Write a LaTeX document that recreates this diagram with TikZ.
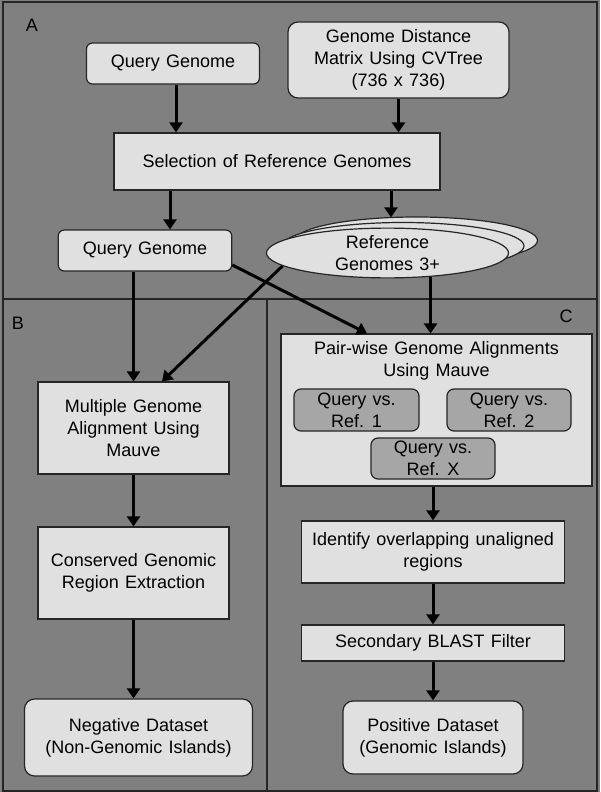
\documentclass[tikz,border=0pt]{standalone}
\usepackage{fontspec}
\setmainfont[WordSpace=1.25]{Liberation Sans}
\usetikzlibrary{arrows.meta,shapes.geometric}
\definecolor{bg}{HTML}{808080}
\definecolor{boxfill}{HTML}{E0E0E0}
\definecolor{innerfill}{HTML}{A6A6A6}
\definecolor{edge}{HTML}{262626}
\tikzset{
  txt/.style={font=\fontsize{18}{22}\selectfont, align=center, inner sep=0pt},
  sqbox/.style={txt, rectangle, draw=edge, line width=1.2pt, fill=boxfill},
  rbox/.style={sqbox, rounded corners=8pt},
  ibox/.style={sqbox, rounded corners=7pt, fill=innerfill},
  ell/.style={txt, ellipse, draw=edge, line width=1.2pt, fill=boxfill, minimum width=242pt, minimum height=47pt},
  arr/.style={line width=3pt, black, -{Triangle[width=13pt,length=10pt]}},
  panel/.style={draw=edge, line width=1.5pt},
  lab/.style={font=\fontsize{18}{20}\selectfont, inner sep=0pt}
}
\begin{document}
\begin{tikzpicture}[x=1pt,y=-1pt]
\fill[bg] (0,0) rectangle (600,792);
\useasboundingbox (0,0) rectangle (600,792);
% panels
\draw[panel] (3,2) rectangle (597,791);
\draw[panel] (3,299) -- (597,299);
\draw[panel] (267,299) -- (267,791);
\node[lab] (la) at (32,25) {A};
\node[lab] (lb) at (18,323) {B};
\node[lab] (lc) at (566,316) {C};
% panel A
\node[rbox, rounded corners=6pt, minimum width=173pt, minimum height=41pt] (qg1) at (173,63.5) {Query Genome};
\node[rbox, rounded corners=10pt, minimum width=221pt, minimum height=76pt] (dm) at (398.5,60) {Genome Distance\\Matrix Using CVTree\\(736 x 736)};
\node[sqbox, minimum width=326pt, minimum height=57pt] (sel) at (277,161.5) {Selection of Reference Genomes};
\node[rbox, rounded corners=6pt, minimum width=173.5pt, minimum height=41pt] (qg2) at (145,250.5) {Query Genome};
\node[ell] (e3) at (416.5,240.5) {};
\node[ell] (e2) at (403,246) {};
\node[ell] (e1) at (387.5,253) {Reference\\Genomes 3+};
% panel B
\node[sqbox, minimum width=191pt, minimum height=92pt] (mga) at (133.5,428) {Multiple Genome\\Alignment Using\\Mauve};
\node[sqbox, minimum width=191pt, minimum height=92pt] (cgr) at (133.5,573) {Conserved Genomic\\Region Extraction};
\node[rbox, rounded corners=10pt, minimum width=228pt, minimum height=77pt] (neg) at (138.5,737.5) {Negative Dataset\\(Non-Genomic Islands)};
% panel C
\node[sqbox, minimum width=311pt, minimum height=152pt] (pw) at (436.5,410) {};
\node[txt] (pwt) at (436.5,361) {Pair-wise Genome Alignments\\Using Mauve};
\node[ibox, minimum width=125pt, minimum height=42pt] (r1) at (356.5,410) {Query vs.\\Ref. 1};
\node[ibox, minimum width=124pt, minimum height=42pt] (r2) at (509,410) {Query vs.\\Ref. 2};
\node[ibox, minimum width=124pt, minimum height=41pt] (rx) at (433,458.5) {Query vs.\\Ref. X};
\node[sqbox, minimum width=263pt, minimum height=62pt] (idf) at (433,552) {Identify overlapping unaligned\\regions};
\node[sqbox, minimum width=263pt, minimum height=36pt] (blast) at (433,643) {Secondary BLAST Filter};
\node[rbox, rounded corners=10pt, minimum width=180pt, minimum height=73pt] (pos) at (433,737.5) {Positive Dataset\\(Genomic Islands)};
% arrows panel A
\draw[arr] ([xshift=3pt]qg1.south) -- ([xshift=3pt]qg1.south |- sel.north);
\draw[arr] (dm.south) -- (dm.south |- sel.north);
\draw[arr] ([xshift=-107pt]sel.south) -- ([xshift=-107pt]sel.south |- qg2.north);
\draw[arr] ([xshift=114pt]sel.south) -- ([xshift=114pt,yshift=-1pt]sel.south |- e3.north);
% crossing connectors
\draw[arr] ([yshift=-14.5pt]qg2.east) -- ([xshift=-69.5pt]pw.north);
\draw[arr] (e1.187) -- ([xshift=28.5pt]mga.north);
\draw[arr] (e1.-29.3) -- (e1.-29.3 |- pw.north);
\draw[arr] (qg2.south -| mga.north) -- (mga.north);
% panel B
\draw[arr] (mga.south) -- (cgr.north);
\draw[arr] (cgr.south) -- (cgr.south |- neg.north);
% panel C
\draw[arr] (pw.south -| idf.north) -- (idf.north);
\draw[arr] (idf.south) -- (blast.north);
\draw[arr] (blast.south) -- (pos.north);
\end{tikzpicture}
\end{document}
